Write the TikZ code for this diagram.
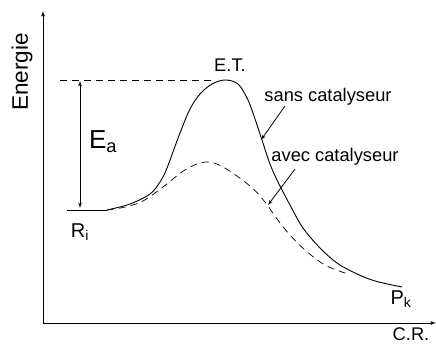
\documentclass[tikz,border=0pt]{standalone}
\usepackage{fontspec}
\setmainfont{Liberation Sans}
\usepackage{tikz}
\usetikzlibrary{arrows,positioning}

\begin{document}
\begin{tikzpicture}[x=1pt, y=-1pt, >=latex', line width=0.9pt,
    lbl/.style={inner sep=0pt, font=\fontsize{18.3}{18}\selectfont},
    biglbl/.style={inner sep=0pt, font=\fontsize{22.5}{22}\selectfont},
    curve/.style={line width=0.9pt},
    line/.style={draw, ->, line width=0.8pt}]

    \useasboundingbox (0,0) rectangle (436,345);

    % axes
    \coordinate (o) at (43,323);
    \coordinate (ytop) at (43,11);
    \coordinate (xend) at (436,323);
    \draw [->] (o) -- (ytop);
    \draw [->] (o) -- (xend);
    \node [biglbl, rotate=90] (energie) at (22,72) {Energie};
    \node [lbl] (cr) at (411,334) {C.R.};

    % levels
    \coordinate (ts) at (60,80);
    \coordinate (tsend) at (215,80);
    \draw [dashed, dash pattern=on 7pt off 5pt, line width=0.7pt] (ts) -- (tsend);
    \coordinate (ri) at (67,210);
    \coordinate (rend) at (107,210);
    \draw [curve] (ri) -- (rend);

    % activation energy
    \coordinate (eatop) at (80,81);
    \coordinate (eabot) at (80,208);
    \draw [<->, line width=0.8pt] (eabot) -- (eatop);
    \node [inner sep=0pt, font=\fontsize{26}{26}\selectfont] (ea) at (103,142) {E\textsubscript{a}};

    % without catalyst
    \draw [curve] plot [smooth, tension=0.55] coordinates {(107,210) (130,204) (150,194) (160,182)
        (167,168) (180,133) (190,109) (200,94) (212,84) (225,80) (238,84) (248,100) (255,119)
        (262,140) (270,164) (278,182) (290,205) (303,228) (320,248) (337,263) (355,273) (375,281)
        (402,287)};
    % with catalyst
    \draw [dashed, dash pattern=on 7pt off 5pt, line width=0.7pt] plot [smooth, tension=0.6] coordinates {(107,210) (125,207) (143,201)
        (163,187) (185,170) (205,162) (223,167) (250,186) (265,202) (277,219) (290,235)
        (305,250) (325,265) (348,274)};

    % labels
    \node [lbl] (et) at (230,65) {E.T.};
    \node [inner sep=0pt, font=\fontsize{20}{20}\selectfont] (r) at (80,232) {R\textsubscript{i}};
    \node [inner sep=0pt, font=\fontsize{20}{20}\selectfont] (p) at (401,299) {P\textsubscript{k}};
    \node [lbl] (sans) at (328,97) {sans catalyseur};
    \node [lbl] (avec) at (335,157) {avec catalyseur};

    \coordinate (sanspt) at (261,140);
    \coordinate (avecpt) at (268,205);
    \path [line] (285,106) -- (sanspt);
    \path [line] (295,169) -- (avecpt);
\end{tikzpicture}
\end{document}
